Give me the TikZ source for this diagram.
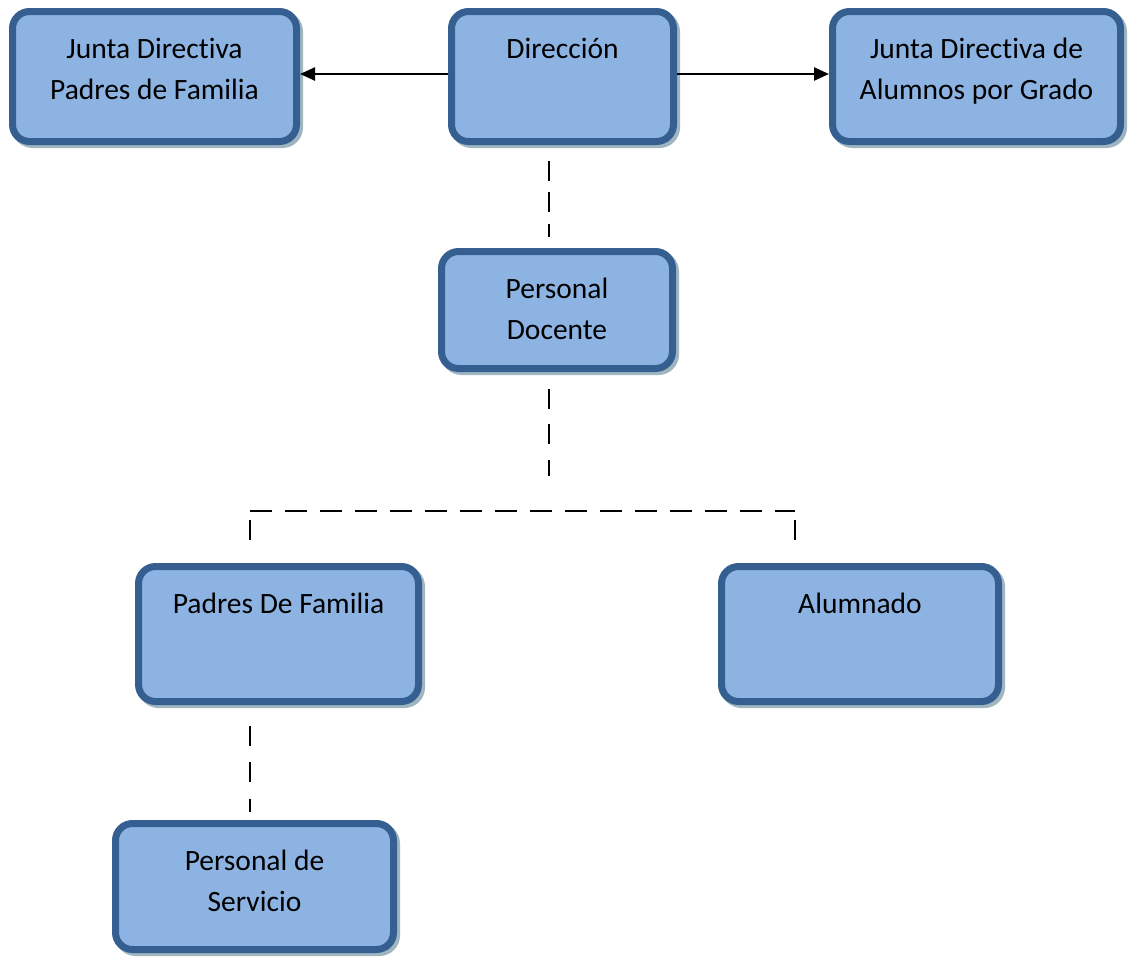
\documentclass[tikz,border=0pt]{standalone}
\usepackage{fontspec}
\setmainfont{Carlito}[Ligatures={NoCommon,NoContextual,NoRequired}, RawFeature={-liga;-clig;-calt;-dlig}]
\usetikzlibrary{arrows.meta}
\definecolor{boxfill}{HTML}{8DB3E2}
\definecolor{boxline}{HTML}{365F91}
\definecolor{boxshadow}{HTML}{9FB6C0}
\newcommand\btxt[3]{\parbox[c][#2][t]{#1}{\centering\rule{0pt}{46.5pt}#3}}
\begin{document}
\begin{tikzpicture}[x=1pt,y=-1pt,
  orgbox/.style={draw=boxline, fill=boxfill, line width=7pt, rounded corners=17pt,
    inner sep=0pt, font=\fontsize{29.5}{41}\selectfont,
    preaction={draw=boxshadow, fill=boxshadow, line width=7pt,
      transform canvas={xshift=3pt,yshift=-3pt}}},
  dline/.style={line width=2pt, dash pattern=on 20pt off 15.5pt},
  arr/.style={line width=2.4pt, -{Triangle[length=15pt,width=13pt]}}]
\useasboundingbox (0,0) rectangle (1132,956);

\node[orgbox] (A) at (154.5,76.5) {\btxt{284pt}{130pt}{Junta Direct\kern0ptiva\\Padres de Familia}};
\node[orgbox] (B) at (562.5,76.5) {\btxt{222pt}{130pt}{Dirección}};
\node[orgbox] (C) at (976.5,76.5) {\btxt{288pt}{130pt}{Junta Direct\kern0ptiva de\\Alumnos por Grado}};
\node[orgbox] (D) at (557,310) {\btxt{231pt}{117pt}{Personal\\Docente}};
\node[orgbox] (E) at (278.5,634) {\btxt{280pt}{135pt}{Padres De Familia}};
\node[orgbox] (F) at (860,634) {\btxt{277pt}{135pt}{Alumnado}};
\node[orgbox] (G) at (254.5,886.5) {\btxt{278pt}{126pt}{Personal de\\Servicio}};

\coordinate (ya) at (0,74);
\coordinate (xa) at (549,0);
\coordinate (bus) at (549,511);
\coordinate (busL) at (250,511);
\coordinate (busR) at (795,511);

\draw[arr] (B.west |- ya) -- (A.east |- ya);
\draw[arr] (B.east |- ya) -- (C.west |- ya);

\draw[dline, dash pattern=on 20pt off 11.5pt, shorten <=15.5pt, shorten >=11.5pt] (B.south -| xa) -- (D.north -| xa);
\draw[dline, shorten <=16.5pt, shorten >=35pt] (D.south -| xa) -- (bus);
\draw[dline, dash pattern=on 22pt off 13pt] (busL) -- (busR);
\draw[dline, shorten <=9pt, shorten >=13.5pt] (busL) -- (E.north -| busL);
\draw[dline, shorten <=9pt, shorten >=13.5pt] (busR) -- (F.north -| busR);
\draw[dline, dash pattern=on 20pt off 16.5pt, shorten <=20.5pt, shorten >=8.5pt] (E.south -| busL) -- (G.north -| busL);
\end{tikzpicture}
\end{document}
